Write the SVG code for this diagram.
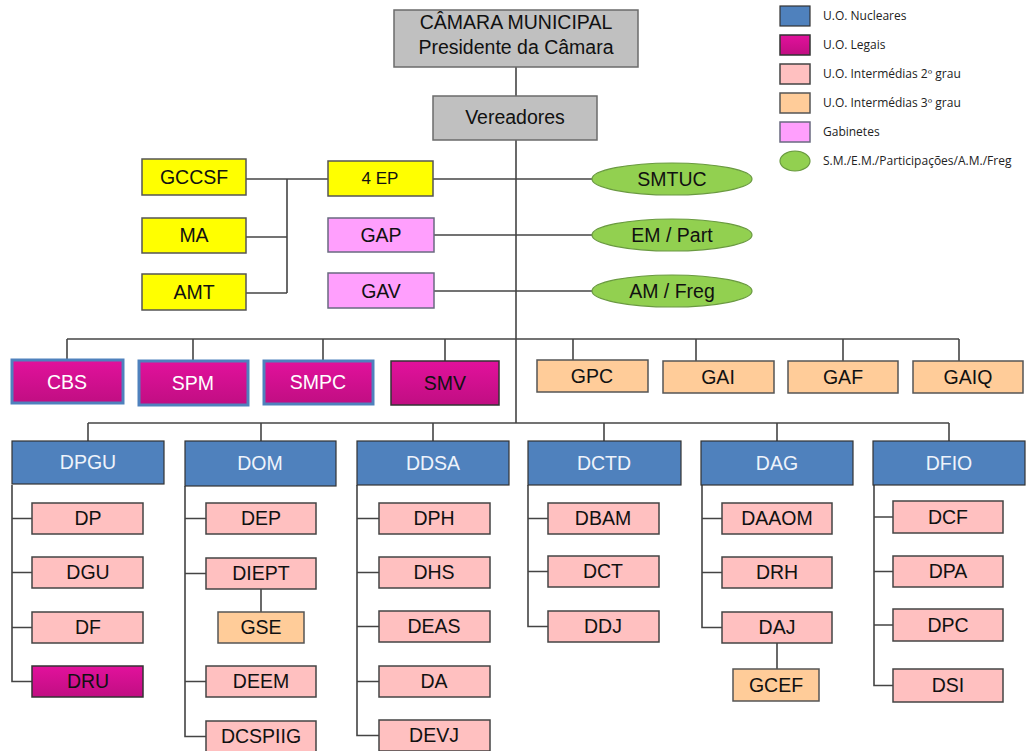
<svg xmlns="http://www.w3.org/2000/svg" width="1032" height="751" viewBox="0 0 1032 751">
<defs>
<linearGradient id="mag" x1="0" y1="0" x2="0" y2="1"><stop offset="0" stop-color="#e2119c"/><stop offset="1" stop-color="#c00e82"/></linearGradient>
</defs>
<style>
text{font-family:"Liberation Sans",Arial,sans-serif;font-size:19.5px;text-anchor:middle;fill:#111}
.leg text{font-family:"Open Sans","Liberation Sans",sans-serif;font-size:12px;text-anchor:start;fill:#222}
.gray{fill:#c0c0c0;stroke:#6b6b6b;stroke-width:1.5}
.yel{fill:#ffff00;stroke:#555;stroke-width:1.5}
.gab{fill:#ff9ffd;stroke:#6a6a80;stroke-width:1.5}
.grn{fill:#92d050;stroke:#6a9a40;stroke-width:1.2}
.mag{fill:url(#mag);stroke:#333;stroke-width:1.5}
.magb{fill:url(#mag);stroke:#4f81bd;stroke-width:3}
.nuc{fill:#4f81bd;stroke:#333;stroke-width:1.2}
.p2{fill:#ffc0c0;stroke:#444;stroke-width:1.5}
.p3{fill:#ffcc99;stroke:#555;stroke-width:1.5}
.w{fill:#fff}
.w2{fill:#eef3fb}
#connectors line,#connectors path{stroke:#444;stroke-width:1.6;fill:none}
</style>

<g id="connectors">
<line x1="516" y1="67" x2="516" y2="423"/>
<line x1="246" y1="179" x2="328" y2="179"/>
<line x1="287" y1="179" x2="287" y2="293"/>
<line x1="246" y1="237" x2="287" y2="237"/>
<line x1="246" y1="293" x2="287" y2="293"/>
<line x1="433" y1="179" x2="593" y2="179"/>
<line x1="434" y1="235" x2="593" y2="235"/>
<line x1="434" y1="291" x2="593" y2="291"/>
<line x1="67" y1="339" x2="959" y2="339"/>
<line x1="67" y1="339" x2="67" y2="360"/>
<line x1="193" y1="339" x2="193" y2="361"/>
<line x1="323" y1="339" x2="323" y2="361"/>
<line x1="445" y1="339" x2="445" y2="361"/>
<line x1="573" y1="339" x2="573" y2="360"/>
<line x1="696" y1="339" x2="696" y2="361"/>
<line x1="843" y1="339" x2="843" y2="361"/>
<line x1="959" y1="339" x2="959" y2="361"/>
<line x1="88" y1="423" x2="949" y2="423"/>
<line x1="88" y1="423" x2="88" y2="441"/>
<line x1="261" y1="423" x2="261" y2="441"/>
<line x1="433" y1="423" x2="433" y2="441"/>
<line x1="604" y1="423" x2="604" y2="441"/>
<line x1="777" y1="423" x2="777" y2="441"/>
<line x1="949" y1="423" x2="949" y2="441"/>
<path d="M12 485V681.5H32M12 518.5H32M12 572.5H32M12 627.5H32"/>
<path d="M185 486V736.5H206M185 518.5H206M185 573.5H206M185 681.5H206"/>
<line x1="261" y1="589" x2="261" y2="612"/>
<path d="M357 485V735.5H379M357 518.5H379M357 572.5H379M357 626.5H379M357 681.5H379"/>
<path d="M528 485V626.5H548M528 518.5H548M528 571.5H548"/>
<path d="M702 485V627.5H722M702 518.5H722M702 572.5H722"/>
<line x1="777" y1="643" x2="777" y2="669"/>
<path d="M874 485V685.5H893M874 517H893M874 571.5H893M874 625H893"/>
</g>

<g id="camara"><rect class="gray" x="394" y="10" width="244" height="57"/><text x="516" y="29">CÂMARA MUNICIPAL</text><text x="516" y="54">Presidente da Câmara</text></g>
<g id="vereadores"><rect class="gray" x="433" y="96" width="164" height="44"/><text x="515" y="124">Vereadores</text></g>

<g id="gccsf"><rect class="yel" x="142" y="159" width="104" height="36"/><text x="194" y="184">GCCSF</text></g>
<g id="ma"><rect class="yel" x="142" y="218" width="104" height="35"/><text x="194" y="242">MA</text></g>
<g id="amt"><rect class="yel" x="142" y="274" width="104" height="36"/><text x="194" y="299">AMT</text></g>
<g id="ep4"><rect class="yel" x="328" y="161" width="105" height="35"/><text x="380" y="184" style="font-size:17px">4 EP</text></g>
<g id="gap"><rect class="gab" x="328" y="218" width="106" height="34"/><text x="381" y="242">GAP</text></g>
<g id="gav"><rect class="gab" x="328" y="273" width="106" height="35"/><text x="381" y="298">GAV</text></g>

<g id="smtuc"><ellipse class="grn" cx="672" cy="179" rx="80" ry="16"/><text x="672" y="186">SMTUC</text></g>
<g id="empart"><ellipse class="grn" cx="672" cy="235" rx="80" ry="16"/><text x="672" y="242">EM / Part</text></g>
<g id="amfreg"><ellipse class="grn" cx="672" cy="291" rx="80" ry="16"/><text x="672" y="298">AM / Freg</text></g>

<g id="cbs"><rect class="magb" x="12" y="360" width="111" height="43"/><text class="w" x="67" y="389">CBS</text></g>
<g id="spm"><rect class="magb" x="139" y="361" width="109" height="44"/><text class="w" x="193" y="390">SPM</text></g>
<g id="smpc"><rect class="magb" x="264" y="361" width="109" height="43"/><text class="w" x="318" y="389">SMPC</text></g>
<g id="smv"><rect class="mag" x="391" y="361" width="108" height="44"/><text x="445" y="390">SMV</text></g>

<g id="gpc"><rect class="p3" x="537" y="360" width="111" height="32"/><text x="592" y="383">GPC</text></g>
<g id="gai"><rect class="p3" x="663" y="361" width="111" height="32"/><text x="718" y="384">GAI</text></g>
<g id="gaf"><rect class="p3" x="788" y="361" width="110" height="32"/><text x="843" y="384">GAF</text></g>
<g id="gaiq"><rect class="p3" x="913" y="361" width="110" height="32"/><text x="968" y="384">GAIQ</text></g>

<g id="dpgu"><rect class="nuc" x="12" y="441" width="152" height="43"/><text class="w2" x="88" y="469">DPGU</text></g>
<g id="dom"><rect class="nuc" x="185" y="441" width="151" height="45"/><text class="w2" x="260" y="470">DOM</text></g>
<g id="ddsa"><rect class="nuc" x="357" y="441" width="152" height="44"/><text class="w2" x="433" y="470">DDSA</text></g>
<g id="dctd"><rect class="nuc" x="528" y="441" width="153" height="44"/><text class="w2" x="604" y="470">DCTD</text></g>
<g id="dag"><rect class="nuc" x="701" y="441" width="152" height="44"/><text class="w2" x="777" y="470">DAG</text></g>
<g id="dfio"><rect class="nuc" x="873" y="441" width="152" height="44"/><text class="w2" x="949" y="470">DFIO</text></g>

<g id="dp"><rect class="p2" x="32" y="503" width="111" height="31"/><text x="88" y="525">DP</text></g>
<g id="dgu"><rect class="p2" x="32" y="557" width="111" height="31"/><text x="88" y="579">DGU</text></g>
<g id="df"><rect class="p2" x="32" y="612" width="111" height="31"/><text x="88" y="634">DF</text></g>
<g id="dru"><rect class="mag" x="32" y="666" width="111" height="31"/><text x="88" y="688">DRU</text></g>

<g id="dep"><rect class="p2" x="206" y="503" width="110" height="31"/><text x="261" y="525">DEP</text></g>
<g id="diept"><rect class="p2" x="206" y="558" width="110" height="31"/><text x="261" y="580">DIEPT</text></g>
<g id="gse"><rect class="p3" x="218" y="612" width="86" height="31"/><text x="261" y="634">GSE</text></g>
<g id="deem"><rect class="p2" x="206" y="666" width="110" height="31"/><text x="261" y="688">DEEM</text></g>
<g id="dcspiig"><rect class="p2" x="206" y="721" width="110" height="31"/><text x="261" y="743">DCSPIIG</text></g>

<g id="dph"><rect class="p2" x="379" y="503" width="111" height="31"/><text x="434" y="525">DPH</text></g>
<g id="dhs"><rect class="p2" x="379" y="557" width="111" height="31"/><text x="434" y="579">DHS</text></g>
<g id="deas"><rect class="p2" x="379" y="611" width="111" height="31"/><text x="434" y="633">DEAS</text></g>
<g id="da"><rect class="p2" x="379" y="666" width="111" height="31"/><text x="434" y="688">DA</text></g>
<g id="devj"><rect class="p2" x="379" y="720" width="111" height="31"/><text x="434" y="742">DEVJ</text></g>

<g id="dbam"><rect class="p2" x="548" y="503" width="111" height="31"/><text x="603" y="525">DBAM</text></g>
<g id="dct"><rect class="p2" x="548" y="556" width="111" height="31"/><text x="603" y="578">DCT</text></g>
<g id="ddj"><rect class="p2" x="548" y="611" width="111" height="31"/><text x="603" y="633">DDJ</text></g>

<g id="daaom"><rect class="p2" x="722" y="503" width="110" height="31"/><text x="777" y="525">DAAOM</text></g>
<g id="drh"><rect class="p2" x="722" y="557" width="110" height="31"/><text x="777" y="579">DRH</text></g>
<g id="daj"><rect class="p2" x="722" y="612" width="110" height="31"/><text x="777" y="634">DAJ</text></g>
<g id="gcef"><rect class="p3" x="733" y="669" width="86" height="32"/><text x="776" y="692">GCEF</text></g>

<g id="dcf"><rect class="p2" x="893" y="501" width="110" height="32"/><text x="948" y="524">DCF</text></g>
<g id="dpa"><rect class="p2" x="893" y="556" width="110" height="31"/><text x="948" y="578">DPA</text></g>
<g id="dpc"><rect class="p2" x="893" y="609" width="110" height="32"/><text x="948" y="632">DPC</text></g>
<g id="dsi"><rect class="p2" x="893" y="669" width="110" height="33"/><text x="948" y="692">DSI</text></g>

<g id="legend" class="leg">
<rect class="nuc" x="780" y="6" width="30" height="20"/><text x="823" y="20">U.O. Nucleares</text>
<rect class="mag" x="780" y="35" width="30" height="20"/><text x="823" y="49">U.O. Legais</text>
<rect class="p2" x="780" y="64" width="30" height="20"/><text x="823" y="78">U.O. Intermédias 2º grau</text>
<rect class="p3" x="780" y="93" width="30" height="20"/><text x="823" y="107">U.O. Intermédias 3º grau</text>
<rect class="gab" x="780" y="122" width="30" height="20"/><text x="823" y="136">Gabinetes</text>
<ellipse class="grn" cx="795" cy="161" rx="15" ry="10"/><text x="823" y="165">S.M./E.M./Participações/A.M./Freg</text>
</g>
</svg>
